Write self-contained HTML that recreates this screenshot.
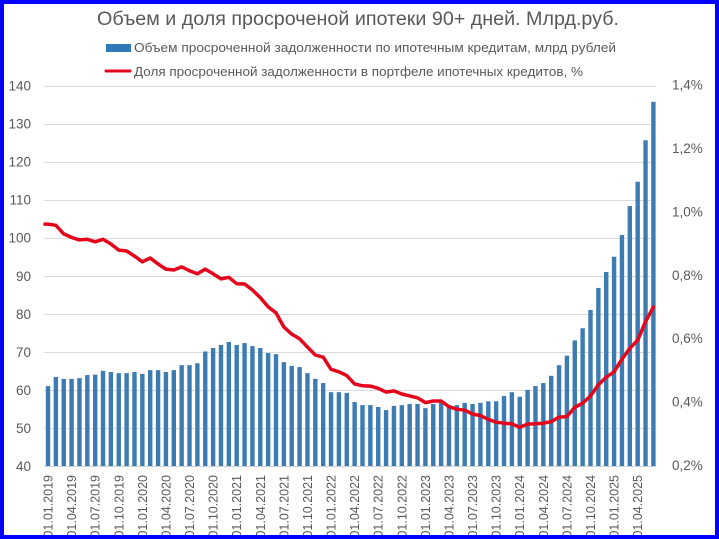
<!DOCTYPE html>
<html lang="ru">
<head>
<meta charset="utf-8">
<title>Объем и доля просроченой ипотеки</title>
<style>
html,body{margin:0;padding:0;background:#fff;}
#chart-root{position:relative;width:719px;height:539px;overflow:hidden;background:#fff;}
svg{display:block;position:absolute;left:0;top:0;}
text{font-family:"Liberation Sans","Noto Sans CJK SC",sans-serif;fill:#595959;}
</style>
</head>
<body>
<div id="chart-root">
<svg id="chart" width="719" height="539" viewBox="0 0 719 539" xmlns="http://www.w3.org/2000/svg">
  <g id="grid"></g>
  <g id="bars"></g>
  <g id="axis-x"></g>
  <g id="axis-left"></g>
  <g id="axis-right"></g>
  <path id="share-line" fill="none" stroke="#e3051b" stroke-width="3.5" stroke-linejoin="round" stroke-linecap="round"></path>
  <text x="358" y="25" text-anchor="middle" font-size="19" textLength="522" lengthAdjust="spacingAndGlyphs">Объем и доля просроченой ипотеки 90+ дней. Млрд.руб.</text>
  <g>
    <rect x="106" y="44" width="25" height="8" fill="#2f79b9"></rect>
    <text x="134" y="52" font-size="12.5" textLength="482" lengthAdjust="spacingAndGlyphs">Объем просроченной задолженности по ипотечным кредитам, млрд рублей</text>
    <line x1="106" y1="71" x2="130" y2="71" stroke="#e3051b" stroke-width="3" stroke-linecap="round"></line>
    <text x="134" y="76" font-size="12.5" textLength="449" lengthAdjust="spacingAndGlyphs">Доля просроченной задолженности в портфеле ипотечных кредитов, %</text>
  </g>
  <rect x="2" y="2" width="715" height="535" fill="none" stroke="#0000ff" stroke-width="4"></rect>
</svg>
</div>
<script>
const volumeValues = [
  61.0,63.4,62.9,62.9,63.1,63.9,64.0,65.0,64.7,64.4,64.4,64.7,
  64.2,65.2,65.2,64.7,65.2,66.5,66.5,67.0,70.1,71.0,71.8,72.6,
  71.8,72.3,71.5,71.0,69.7,69.4,67.3,66.3,66.0,64.4,62.9,61.8,
  59.4,59.4,59.2,56.8,56.0,56.0,55.5,54.7,55.8,56.0,56.3,56.3,
  55.2,56.3,56.6,55.8,56.0,56.6,56.3,56.6,57.0,57.0,58.4,59.4,
  58.2,60.0,61.0,61.8,63.7,66.5,69.0,73.0,76.2,81.0,86.8,91.0,
  95.0,100.7,108.3,114.7,125.6,135.7
];
const shareValues = [
  0.963,0.959,0.932,0.921,0.913,0.915,0.907,0.915,0.900,0.881,0.878,0.862,
  0.844,0.856,0.837,0.821,0.818,0.828,0.816,0.806,0.821,0.806,0.790,0.795,
  0.775,0.774,0.755,0.731,0.702,0.683,0.638,0.616,0.601,0.575,0.550,0.543,
  0.505,0.497,0.485,0.459,0.453,0.452,0.445,0.433,0.437,0.427,0.421,0.415,
  0.400,0.405,0.405,0.387,0.379,0.376,0.364,0.359,0.347,0.338,0.335,0.333,
  0.322,0.332,0.333,0.335,0.340,0.354,0.356,0.385,0.398,0.421,0.456,0.480,
  0.497,0.537,0.571,0.597,0.655,0.701
];
const dateLabels = [
  "01.01.2019","01.04.2019","01.07.2019","01.10.2019",
  "01.01.2020","01.04.2020","01.07.2020","01.10.2020",
  "01.01.2021","01.04.2021","01.07.2021","01.10.2021",
  "01.01.2022","01.04.2022","01.07.2022","01.10.2022",
  "01.01.2023","01.04.2023","01.07.2023","01.10.2023",
  "01.01.2024","01.04.2024","01.07.2024","01.10.2024",
  "01.01.2025","01.04.2025"
];
const leftTicks = [40,50,60,70,80,90,100,110,120,130,140];
const rightTicks = [0.2,0.4,0.6,0.8,1.0,1.2,1.4];

const NS = "http://www.w3.org/2000/svg";
function xScale(i){ return 48 + i * (653.4 - 48) / 77; }
function yLeft(v){ return 466 - (v - 40) * (466 - 85.5) / 100; }
function yRight(v){ return 466 - (v - 0.2) * (466 - 85.5) / 1.2; }
function make(tag, props, parent, txt){
  const el = document.createElementNS(NS, tag);
  for (const k in props) el.setAttribute(k, props[k]);
  if (txt !== undefined) el.textContent = txt;
  parent.appendChild(el);
  return el;
}
const gridG = document.getElementById("grid");
const barsG = document.getElementById("bars");
const axisXG = document.getElementById("axis-x");
const axisLG = document.getElementById("axis-left");
const axisRG = document.getElementById("axis-right");

leftTicks.forEach(function(t){
  const y = Math.round(yLeft(t)) + 0.5;
  if (t > 40) {
    const g = make("line", {x1:44, x2:656, y1:y, y2:y, stroke:"#d9d9d9", "stroke-width":1}, gridG);
    
    
  }
  const l = make("text", {x:31, y:yLeft(t) + 5, "text-anchor":"end", "font-size":13.5}, axisLG, String(t));
  
  
});
rightTicks.forEach(function(t){
  const l = make("text", {x:672, y:yRight(t) + 4, "font-size":13.5}, axisRG, t.toFixed(1).replace(".", ",") + "%");
  
  
});
volumeValues.forEach(function(v, i){
  const y = yLeft(v);
  const b = make("rect", {x:xScale(i) - 2.2, y:y, width:4.4, height:466 - y, fill:"#3d7bb3"}, barsG);
  
  
});
const axisLine = make("line", {x1:44, x2:656, y1:466.5, y2:466.5, stroke:"#d0d0d0", "stroke-width":1}, axisXG);


dateLabels.forEach(function(d, k){
  const cx = xScale(k * 3);
  const l = make("text", {transform:"translate(" + (cx + 4.5) + ",475) rotate(-90)", "text-anchor":"end", "font-size":12.5}, axisXG, d);
  
  
});
document.getElementById("share-line").setAttribute("d",
  "M45 " + yRight(shareValues[0]).toFixed(1) + " " +
  shareValues.map(function(v, i){
    return "L" + xScale(i).toFixed(1) + " " + yRight(v).toFixed(1);
  }).join(" "));
</script>
</body>
</html>
